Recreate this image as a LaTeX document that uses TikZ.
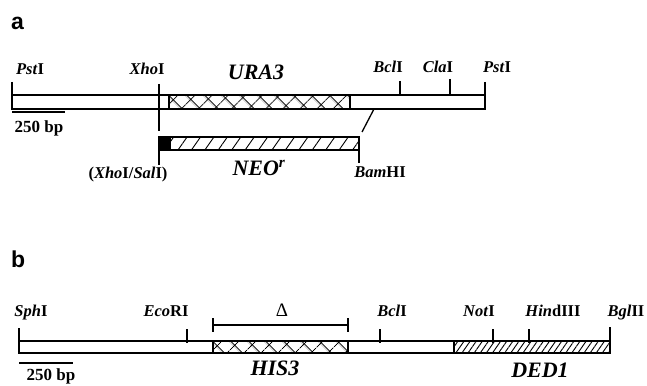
\documentclass[tikz,border=0pt]{standalone}
\usepackage{fontspec}
\setmainfont{Liberation Serif}
\newfontfamily\panelfont{Liberation Sans}
\usetikzlibrary{positioning, patterns.meta}
\newcommand{\enz}[2]{\textit{#1}#2}

\begin{document}
\begin{tikzpicture}[x=1pt, y=-1pt,
    every node/.style={inner sep=0pt},
    enz/.style={anchor=base, font=\fontsize{16.5}{16.5}\selectfont\bfseries},
    gene/.style={anchor=base, font=\fontsize{22}{22}\selectfont\bfseries\itshape},
    panel/.style={anchor=base west, font=\fontsize{23}{23}\selectfont\panelfont\bfseries},
    bar/.style={draw, line width=1.6pt},
    tick/.style={line width=1.6pt},
    cross/.style={pattern={Hatch[angle=45, distance=13pt, line width=0.9pt]}},
    hatch/.style={pattern={Lines[angle=55, distance=#1, line width=0.9pt]}}
  ]
\useasboundingbox (0,0) rectangle (647,385);

% panel a
\node[panel] (pa) at (11,30) {a};

\draw[bar] (12,95) rectangle (485,109);
\draw[bar, cross, line width=2.6pt] (169,95) rectangle (350,109);
\draw[tick] (12,82) -- (12,95);
\draw[tick] (159,84) -- (159,131);
\draw[tick] (400,81) -- (400,95);
\draw[tick] (450,79) -- (450,95);
\draw[tick] (485,82) -- (485,95);
\draw[tick] (12,112) -- (65,112);
\draw[line width=1.3pt] (374,109) -- (362,132);

\node[enz] (pst1) at (30,75)  {\enz{Pst}{I}};
\node[enz] (xho)  at (147,75) {\enz{Xho}{I}};
\node[gene] (ura) at (256,80) {URA3};
\node[enz] (bcla) at (388,73) {\enz{Bcl}{I}};
\node[enz] (cla)  at (438,73) {\enz{Cla}{I}};
\node[enz] (pst2) at (497,73) {\enz{Pst}{I}};
\node[enz, font=\fontsize{17}{17}\selectfont\bfseries] (scla) at (39,132) {250 bp};

\fill (159,137) rectangle (170,150);
\draw[bar, hatch=11pt] (170,137) rectangle (359,150);
\draw[bar] (159,137) rectangle (170,150);
\draw[tick] (159,137) -- (159,165);
\draw[tick] (359,150) -- (359,163);

\node[enz] (xhosal) at (128,178) {(\enz{Xho}{I/}\enz{Sal}{I})};
\node[gene] (neo)   at (259,175) {NEO\textsuperscript{r}};
\node[enz] (bam)    at (380,177) {\enz{Bam}{HI}};

% panel b
\node[panel] (pb) at (11,267) {b};

\draw[bar] (19,341) rectangle (610,353);
\draw[bar, cross] (213,341) rectangle (348,353);
\draw[bar, hatch=5pt] (454,341) rectangle (610,353);
\draw[tick] (19,328) -- (19,341);
\draw[tick] (187,329) -- (187,343);
\draw[tick] (380,329) -- (380,343);
\draw[tick] (493,329) -- (493,343);
\draw[tick] (529,329) -- (529,343);
\draw[tick] (610,327) -- (610,341);
\draw[tick] (19,363) -- (73,363);
\draw[tick] (213,325) -- (348,325);
\draw[tick] (213,318) -- (213,332);
\draw[tick] (348,318) -- (348,332);

\node[enz] (sph)  at (31,316)  {\enz{Sph}{I}};
\node[enz] (eco)  at (166,316) {\enz{Eco}{RI}};
\node[anchor=base, font=\fontsize{19}{19}\selectfont] (del) at (282,316) {Δ};
\node[enz] (bclb) at (392,316) {\enz{Bcl}{I}};
\node[enz] (not)  at (479,316) {\enz{Not}{I}};
\node[enz] (hind) at (553,316) {\enz{Hin}{dIII}};
\node[enz] (bgl)  at (626,316) {\enz{Bgl}{II}};
\node[enz, font=\fontsize{17}{17}\selectfont\bfseries] (sclb) at (51,380)  {250 bp};
\node[gene] (his) at (275,375) {HIS3};
\node[gene] (ded) at (540,377) {DED1};
\end{tikzpicture}
\end{document}
